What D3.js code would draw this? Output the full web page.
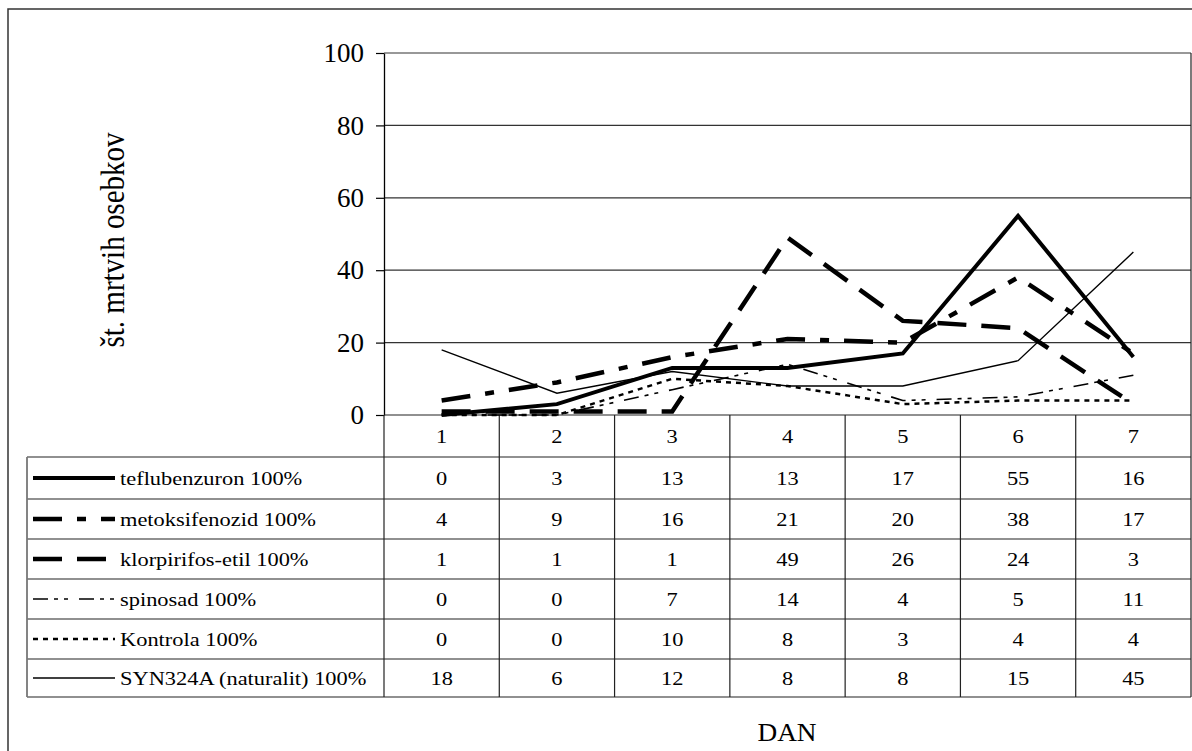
<!DOCTYPE html>
<html>
<head>
<meta charset="utf-8">
<script src="https://cdn.jsdelivr.net/npm/d3@7"></script>
<style>
  html, body { margin: 0; padding: 0; background: #fff; }
  svg { display: block; }
  svg text { font-family: "Liberation Serif", "Times New Roman", "DejaVu Serif", serif !important; fill: #000; }
</style>
</head>
<body>
<svg id="chart" width="1192" height="751"></svg>
<script>
// ---- data ----
const days = ["1", "2", "3", "4", "5", "6", "7"];
const seriesNames = [
  "teflubenzuron 100%",
  "metoksifenozid 100%",
  "klorpirifos-etil 100%",
  "spinosad 100%",
  "Kontrola 100%",
  "SYN324A (naturalit) 100%"
];
const teflubenzuron = [0, 3, 13, 13, 17, 55, 16];
const metoksifenozid = [4, 9, 16, 21, 20, 38, 17];
const klorpirifos = [1, 1, 1, 49, 26, 24, 3];
const spinosad = [0, 0, 7, 14, 4, 5, 11];
const kontrola = [0, 0, 10, 8, 3, 4, 4];
const syn324a = [18, 6, 12, 8, 8, 15, 45];
const yTicks = [0, 20, 40, 60, 80, 100];
const yTitle = "št. mrtvih osebkov";
const xTitle = "DAN";

const seriesValues = [teflubenzuron, metoksifenozid, klorpirifos, spinosad, kontrola, syn324a];

// ---- styles (not data) ----
const FONT = "'Liberation Serif', 'Times New Roman', serif";
const styles = [
  { w: 4, dash: null },
  { w: 4.5, dash: "29,15,9,15" },
  { w: 4.5, dash: "29,15" },
  { w: 1.6, dash: "15,6,4,6,4,11" },
  { w: 2.5, dash: "5,5" },
  { w: 1.4, dash: null }
];

const svg = d3.select("#chart").attr("font-family", FONT);

// outer border
svg.append("rect").attr("x", 8).attr("y", 9).attr("width", 1300).attr("height", 900)
  .attr("fill", "none").attr("stroke", "#333").attr("stroke-width", 1.5);

const plotL = 384, plotR = 1191, plotT = 53, plotB = 415;
const x = d3.scaleBand().domain(days).range([plotL, plotR]);
const y = d3.scaleLinear().domain([0, 100]).range([plotB, plotT]);
const cx = d => x(d) + x.bandwidth() / 2;

// gridlines
svg.append("g").selectAll("line").data(yTicks.filter(t => t > 0)).join("line")
  .attr("x1", plotL).attr("x2", plotR)
  .attr("y1", d => y(d)).attr("y2", d => y(d))
  .attr("stroke", "#333").attr("stroke-width", 1.2);

// table geometry
const tableL = 27;
const catBottom = 457;
const rowBounds = [457, 499, 539, 579, 619, 659, 697];

// y axis
const yAxis = d3.axisLeft(y).tickValues(yTicks).tickSize(8).tickSizeOuter(0).tickPadding(12);
const gy = svg.append("g").attr("transform", `translate(${plotL},0)`).call(yAxis)
  .attr("font-family", FONT);
gy.select(".domain").attr("stroke", "#000").attr("stroke-width", 1.3);
gy.selectAll(".tick line").attr("stroke", "#000").attr("stroke-width", 1.2);
gy.selectAll(".tick text").attr("font-size", 27).attr("fill", "#000")
  .attr("font-family", FONT);

// plot right border
svg.append("line").attr("x1", plotR).attr("x2", plotR).attr("y1", plotT).attr("y2", rowBounds[rowBounds.length - 1])
  .attr("stroke", "#222").attr("stroke-width", 1.2);

// x axis baseline
svg.append("line").attr("x1", plotL).attr("x2", plotR).attr("y1", plotB).attr("y2", plotB)
  .attr("stroke", "#222").attr("stroke-width", 1.2);

// table horizontal lines
svg.append("g").selectAll("line").data(rowBounds).join("line")
  .attr("x1", tableL).attr("x2", plotR)
  .attr("y1", d => d).attr("y2", d => d)
  .attr("stroke", "#222").attr("stroke-width", 1.2);

// table left border
svg.append("line").attr("x1", tableL).attr("x2", tableL).attr("y1", catBottom).attr("y2", rowBounds[rowBounds.length - 1])
  .attr("stroke", "#777").attr("stroke-width", 1.8);

// legend column border (continuation of axis)
svg.append("line").attr("x1", plotL).attr("x2", plotL).attr("y1", plotB).attr("y2", rowBounds[rowBounds.length - 1])
  .attr("stroke", "#222").attr("stroke-width", 1.2);

// column separators
svg.append("g").selectAll("line").data(days.slice(1)).join("line")
  .attr("x1", d => x(d)).attr("x2", d => x(d))
  .attr("y1", plotB).attr("y2", rowBounds[rowBounds.length - 1])
  .attr("stroke", "#222").attr("stroke-width", 1.2);

const SX = 1.18;
// category labels
svg.append("g").selectAll("text").data(days).join("text")
  .attr("transform", d => `translate(${cx(d)},${(plotB + catBottom) / 2 + 6.5}) scale(${SX},1)`)
  .attr("text-anchor", "middle").attr("font-size", 19).attr("font-family", FONT).text(d => d);

// rows
seriesNames.forEach((name, i) => {
  const top = rowBounds[i], bot = rowBounds[i + 1];
  const mid = (top + bot) / 2;
  const base = mid + 7;
  const g = svg.append("g");
  const st = styles[i];
  g.append("line").attr("x1", 33).attr("x2", 115).attr("y1", mid).attr("y2", mid)
    .attr("stroke", "#000").attr("stroke-width", st.w)
    .attr("stroke-dasharray", st.dash);
  g.append("text").attr("transform", `translate(120,${base}) scale(${SX},1)`)
    .attr("font-size", 19).attr("font-family", FONT).text(name);
  g.selectAll("text.v").data(seriesValues[i]).join("text").attr("class", "v")
    .attr("transform", (v, j) => `translate(${cx(days[j])},${base}) scale(${SX},1)`)
    .attr("text-anchor", "middle").attr("font-size", 19).attr("font-family", FONT).text(v => v);
});

// series lines
const line = d3.line().x((v, j) => cx(days[j])).y(v => y(v));
seriesValues.forEach((vals, i) => {
  const st = styles[i];
  svg.append("path").datum(vals).attr("d", line)
    .attr("fill", "none").attr("stroke", "#000").attr("stroke-width", st.w)
    .attr("stroke-dasharray", st.dash).attr("stroke-linejoin", "miter");
});

// y title
svg.append("text")
  .attr("transform", `translate(124,240) scale(1.17,1) rotate(-90)`)
  .attr("text-anchor", "middle").attr("font-size", 29).attr("font-family", FONT).text(yTitle);

// x title
svg.append("text")
  .attr("transform", `translate(787,741) scale(1.05,1)`)
  .attr("text-anchor", "middle").attr("font-size", 26).attr("font-family", FONT).text(xTitle);
</script>
</body>
</html>
